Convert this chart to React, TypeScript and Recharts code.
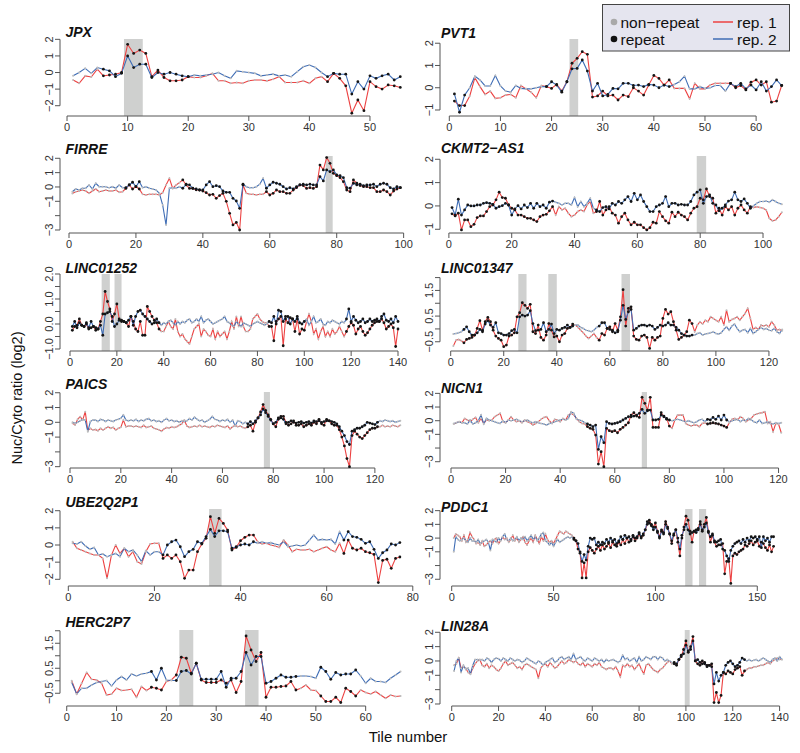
import React from 'react';
import { LineChart, Line, XAxis, YAxis, ReferenceArea, ReferenceLine } from 'recharts';

const FONT = "'Liberation Sans', Arial, Helvetica, sans-serif";
const RED = '#ec4242';
const BLUE = '#3f6db5';
const AXIS = '#555555';
const SHADE = '#cfd0cf';

// ---------------- data ----------------
const jpxRep1 = [-0.45,-0.65,-0.2,-0.27,0.2,-0.2,-0.15,-0.1,0,1.7,1.15,1.35,1.15,-0.25,0.15,-0.3,-0.5,-0.5,-0.45,-0.25,-0.3,-0.3,-0.2,-0.05,-0.5,-0.5,-0.65,-0.6,-0.65,-0.5,-0.45,-0.45,-0.5,-0.4,-0.25,-0.6,-0.6,-0.6,-0.5,-0.65,-0.35,-0.25,-0.55,-0.05,-0.35,-0.8,-2.45,-1.65,-2.3,-0.55,-0.85,-1.0,-0.75,-0.8,-0.9];
const jpxRep2 = [-0.2,0,0.25,-0.05,0.3,0.2,0.1,-0.25,-0.05,1.0,0.3,0.5,0.5,-0.3,0,-0.1,0,-0.1,-0.2,-0.25,-0.15,-0.2,-0.15,-0.1,0,-0.2,-0.35,0.1,0.05,0,-0.05,-0.2,-0.15,-0.1,-0.2,-0.15,-0.25,0.05,0.35,0.45,0.3,0,-0.25,-0.05,-0.1,-0.1,-1.3,-0.55,-1.0,-0.2,-0.35,-0.2,-0.1,-0.45,-0.25];
const jpxRepeats = [[6,20],[43,55]];
const jpxShades = [[9.4,12.5]];

const pvt1Rep1 = [-0.6,-0.8,-0.8,-0.37,0.45,0.05,-0.3,-0.15,-0.48,-0.45,-0.33,-0.3,-0.45,0.1,-0.05,-0.2,-0.45,0.1,0.05,-0.03,0.15,-0.15,0.27,1.1,1.32,1.62,1.5,-0.42,-0.37,-0.15,-0.37,-0.33,-0.55,-0.33,-0.4,0,-0.15,-0.33,0.12,0.55,0.42,0.12,0.35,-0.03,-0.03,-0.03,-0.5,0.2,-0.05,-0.05,0.12,0.2,0.2,0.2,0.2,0,0.1,-0.1,0.25,0.35,0.12,0.27,-0.65,-0.6,0.1];
const pvt1Rep2 = [-0.28,-1.1,-0.33,0,0.52,0.35,0.08,0.08,0.55,0.08,-0.15,-0.2,0.1,-0.03,-0.05,-0.05,0,0.05,0.05,0.27,0.12,-0.2,0.27,0.85,0.87,1.25,0.75,-0.15,0.2,-0.37,-0.3,-0.03,-0.05,0.2,0.2,0.1,0.12,0.05,0.15,0.12,0,0.12,0.05,0.15,0.27,0.52,-0.05,-0.05,0.05,-0.03,0,0.1,0.1,-0.15,0.2,0.05,0.2,-0.05,0.12,-0.1,0.27,-0.15,0.05,0.35,0.1];
const pvt1Repeats = [[1,3],[19,43],[55,65]];
const pvt1Shades = [[23.5,25.2]];

const firreRep1 = [-0.45,-0.33,-0.28,-0.21,-0.28,-0.44,-0.28,-0.14,-0.33,-0.28,-0.21,-0.28,-0.28,-0.21,-0.37,-0.33,-0.1,0.14,-0.14,0.02,-0.14,-0.51,-0.56,-0.51,-0.51,-0.51,-0.56,-0.4,0.14,0.6,-0.1,0.14,0.3,0.49,0.14,-0.1,-0.1,-0.2,-0.21,-0.28,-0.4,-0.56,-0.51,-0.79,-0.6,-0.44,-1.0,-1.84,-2.65,-2.47,-3.0,0.14,-0.44,-0.51,-0.51,-0.56,-0.51,-0.51,-0.33,-0.56,-0.44,-0.21,-0.33,-0.33,-0.44,-0.44,-0.21,-0.05,0.14,0.1,-0.1,-0.05,-0.1,0.02,1.53,1.19,2.05,1.65,0.95,0.79,0.65,0.37,-0.21,-0.33,0.49,0.26,0.1,0.02,0.02,-0.05,-0.05,-0.33,-0.33,-0.21,-0.33,-0.56,-0.28,-0.14,-0.05];
const firreRep2 = [-0.33,-0.14,-0.21,-0.09,-0.09,0.14,-0.14,0.26,0.02,0.02,0.02,-0.05,0.02,-0.09,0.14,-0.05,-0.05,0.14,0.33,0.02,0.37,-0.05,0.02,-0.09,-0.14,-0.21,-0.44,-1.26,-2.65,-0.09,-0.05,-0.09,0.02,-0.09,0.19,0.14,-0.09,-0.14,-0.21,-0.21,0.14,0.37,0.02,0.09,0.02,-0.28,-0.37,-0.37,-0.79,-0.98,-1.49,0.19,0.02,-0.05,-0.05,0.02,0.19,0.6,-0.09,0.14,0.33,0.26,0.19,0.02,-0.14,-0.05,-0.14,0.02,0.14,0.19,0.14,0.19,0.14,0.14,0.72,0.42,1.19,1.07,1.19,0.84,0.79,0.65,-0.05,-0.09,0.26,0.14,0.19,0.09,0.14,0.14,0.19,0.02,0.19,0.26,0.19,-0.05,-0.14,0.02,-0.05];
const firreRepeats = [[17,21],[34,52],[59,99]];
const firreShades = [[76.7,78.8]];

const ckmt2Rep1 = [-0.34,-0.43,-0.31,-1.03,-0.6,-0.6,-0.89,-0.79,-0.5,-0.43,-0.43,-0.24,-0.03,0.04,0.26,0.59,0.36,0.33,0.04,-0.1,-0.17,-0.39,-0.39,-0.46,-0.53,-0.53,-0.6,-0.67,-0.46,-0.39,-0.36,-0.21,-0.03,-0.39,-0.03,-0.17,-0.1,-0.31,-0.46,-0.39,-0.24,-0.17,-0.24,0.04,0.19,-0.31,-0.24,0.19,-0.39,-0.17,-0.03,-0.31,-0.39,-0.74,-0.46,-0.31,-0.6,-0.81,-0.7,-0.81,-0.81,-0.93,-1.03,-0.93,-0.7,-0.74,-0.24,-0.46,-0.64,-0.74,-0.27,-0.46,-0.27,-0.39,-0.46,-0.6,-0.31,-0.1,-0.03,0.33,0.26,0.73,0.4,0.33,-0.31,-0.1,-0.39,-0.03,-0.17,-0.03,-0.39,-0.1,0.04,-0.17,-0.31,-0.03,-0.07,-0.03,-0.07,-0.1,-0.17,-0.53,-0.64,-0.6,-0.46,-0.27];
const ckmt2Rep2 = [-0.07,-0.39,0.29,-0.39,-0.17,0.04,0,0,0.04,0.04,0.11,0.14,0.11,0.07,-0.1,-0.03,0.01,0.11,0.04,-0.39,-0.13,0.01,-0.13,0.04,-0.07,0.11,-0.1,0.11,-0.03,0.04,-0.1,0.16,0.21,0.16,0.11,0.04,0.11,0.11,0.04,0.36,-0.03,0.19,-0.03,0.11,0.33,-0.1,-0.17,-0.24,-0.07,-0.03,-0.13,0.11,0.04,0.19,0.11,0.26,0.4,0.19,0.54,0.26,0.47,0.19,-0.03,-0.24,-0.24,-0.03,0.04,0.11,0.4,-0.03,0.11,0.11,0.04,0.07,0.04,0.04,0.19,0.47,0.59,0.69,0.11,0.4,0.47,0.11,0.04,-0.21,-0.1,0.04,0.21,0.26,0.59,0.26,0.19,0.3,0.11,-0.1,0.01,0.11,0.19,0.19,0.21,0.16,0.26,0.19,0.11,0.07];
const ckmt2Repeats = [[1,33],[47,96]];
const ckmt2Shades = [[78.9,81.9]];

const linc01252Rep1 = [-0.25,-0.1,-0.05,0.2,-0.05,-0.1,0,-0.2,-0.15,-0.1,-0.25,-0.2,0.1,0.4,1.3,0.9,0.6,0.1,0.4,0.8,0.2,0.1,0.1,0.05,-0.1,0.3,0.1,-0.2,-0.3,0.1,-0.45,-0.45,0.7,0.5,0.3,0.15,0.05,-0.2,-0.3,-0.3,-0.1,0.1,-0.1,-0.2,0.2,-0.3,-0.5,-0.4,-0.6,-0.7,-0.8,-0.5,-0.2,-0.1,0,-0.5,-0.2,-0.3,-0.45,-0.5,-0.2,-0.6,-0.3,-0.5,-0.4,-0.3,-0.6,-0.3,0.1,-0.2,0.3,-0.1,0.3,-0.1,-0.3,-0.3,-0.2,0.2,0.3,0.4,0.2,0.1,0.05,0.05,-0.1,-0.1,-0.67,0.1,0.2,0.3,-0.87,0.2,0.05,0.25,0.2,-0.3,0.2,-0.4,-0.2,-0.25,0.1,0.4,0.1,-0.4,-0.2,-0.6,-0.3,-0.1,-0.5,-0.3,-0.5,-0.2,-0.4,-0.3,-0.1,-0.3,-0.5,-0.3,-0.1,0.05,-0.05,-0.4,-0.2,-0.1,-0.3,-0.45,-0.35,-0.2,-0.05,0.05,0.1,0.1,0.2,0.05,-0.2,-0.1,0,-0.15,-0.9,-0.2];
const linc01252Rep2 = [-0.1,0.1,-0.15,0.05,-0.05,-0.1,0.05,-0.15,0.1,-0.1,-0.15,-0.2,-0.05,-0.45,0.4,0.45,0.5,0.3,-0.1,0,0.15,0.15,0.1,0.05,0.15,0.3,-0.05,0.3,0.5,0.55,0.4,0.3,0.2,0.1,0,0.05,0.2,0.05,-0.05,0.05,0,0.1,0.15,0.05,-0.05,0.1,0,0.1,0.05,0.15,0.2,0.05,0.1,0.2,0.1,0.3,0.05,0.15,0.2,0.1,0,0.05,0.1,0.15,0.2,0.3,0.1,0.05,-0.05,-0.1,0.1,0,-0.1,0.05,0,-0.05,-0.1,0,0.05,0.1,0.05,0,-0.05,0,0.1,0.05,0.3,0,0.55,0.5,0.1,0.3,0.3,0,0.2,0.1,0.3,0.05,0,0.1,0.2,-0.05,0.1,0.3,0.05,0.1,0.2,0,-0.05,0.1,0.05,0.15,0.1,0.05,0,0.1,0.05,0.2,0.6,0.1,0.3,0.15,0.05,0.1,0.2,0.05,0.1,0.2,0.1,0.15,0.2,0.1,0.3,0.4,0.15,0.1,0.2,0.05,0.3,0.1];
const linc01252Repeats = [[1,38],[85,100],[118,140]];
const linc01252Shades = [[13.5,17],[19,22]];

const linc01347Rep1 = [-0.67,-0.44,-0.41,-0.46,-0.54,-0.41,-0.37,-0.33,-0.24,0.02,0.32,-0.05,0.28,0.45,0.28,-0.05,-0.28,-0.37,-0.44,-0.69,-0.63,-0.28,-0.24,-0.15,0.47,0.63,1.02,0.92,0.8,0.96,-0.11,-0.18,0.15,-0.33,-0.44,-0.24,0.21,-0.05,-0.31,-0.28,-0.5,-0.24,-0.18,0.02,0.06,0.19,0.15,0.06,-0.05,-0.15,-0.28,-0.37,-0.28,-0.18,-0.33,-0.44,-0.18,-0.24,0.02,0.08,-0.11,0.21,-0.05,0.47,1.53,0.11,0.8,0.86,-0.28,-0.41,-0.44,-0.28,-0.24,-0.33,-0.76,-0.33,-0.44,-0.33,-0.28,0.41,0.76,0.58,0.67,0.28,-0.05,-0.41,-0.33,-0.24,-0.11,0.34,0.21,-0.11,0.15,0.28,0.19,0.34,0.28,0.47,0.41,0.34,0.28,0.47,0.15,0.73,0.28,0.37,0.41,0.47,0.34,0.47,0.6,0.8,0.41,-0.02,0.06,-0.02,0.15,0.11,0.15,0.08,0.28,0.15,-0.05,-0.02,-0.07];
const linc01347Rep2 = [-0.2,-0.18,-0.15,-0.11,-0.02,0.08,-0.11,-0.24,-0.24,-0.15,-0.02,-0.11,0.19,0.32,0.15,0.06,0.24,-0.15,-0.18,-0.24,-0.24,-0.18,-0.07,-0.02,-0.15,0.47,0.54,0.5,0.54,0.71,0.21,-0.07,-0.05,-0.02,0.24,-0.11,-0.02,0.19,-0.18,-0.02,-0.05,0.02,0.06,0.15,0.06,0.11,0.15,0.15,0.06,0.02,-0.05,-0.07,-0.11,-0.05,0.06,0.11,0.24,0.24,0.02,-0.02,-0.05,-0.15,-0.11,0.34,0.92,0.37,0.67,0.76,-0.05,0.02,0.11,0.15,0.15,0.11,0.15,0.11,-0.02,0.06,0.15,0.11,0.15,0.24,0.15,0.15,0.06,-0.05,-0.18,-0.24,-0.28,-0.28,-0.24,-0.24,-0.18,-0.15,-0.24,-0.2,-0.18,-0.15,-0.11,-0.18,-0.2,-0.15,-0.02,0.08,-0.05,0.11,0.19,0.02,-0.11,-0.05,-0.02,-0.15,0.02,-0.18,-0.11,-0.02,0.06,-0.02,0.02,-0.05,-0.07,0.02,-0.11,-0.18,-0.02];
const linc01347Repeats = [[5,46],[56,91]];
const linc01347Shades = [[25.5,28.6],[36.8,40],[64.4,67.6]];

const paicsRep1 = [-0.07,-0.18,0.2,0.38,0.15,0.72,-0.57,-0.41,-0.52,-0.48,-0.57,-0.41,-0.52,-0.41,-0.3,-0.41,-0.34,-0.52,-0.41,-0.34,0.15,-0.3,-0.25,-0.25,-0.3,-0.25,-0.3,-0.35,-0.2,-0.35,-0.3,-0.25,-0.4,-0.45,-0.5,-0.6,-0.45,-0.35,-0.4,-0.3,-0.35,-0.3,-0.2,-0.1,0.15,-0.25,-0.35,-0.3,-0.25,-0.3,-0.2,-0.3,-0.25,-0.3,-0.35,-0.25,-0.3,-0.2,-0.25,-0.3,-0.35,-0.25,-0.45,-0.3,-0.2,-0.3,-0.25,-0.35,-0.4,-0.3,-0.2,-0.6,0,0.3,0.7,1.2,0.8,0.5,0.2,-0.1,-0.3,0.2,0.4,0.4,0,-0.2,-0.1,0.1,-0.2,-0.2,-0.1,-0.3,-0.2,-0.1,-0.2,0,-0.1,0.2,-0.1,-0.2,0.2,0.1,-0.1,-0.2,-0.2,-0.5,-1.0,-1.6,-2.45,-3.0,-0.9,-0.6,-0.8,-1.0,-1.1,-0.9,-0.7,-0.5,-0.4,-0.4,-0.3,-0.3,-0.2,-0.3,-0.25,-0.3,-0.2,-0.25,-0.3,-0.2];
const paicsRep2 = [0,-0.07,0,0.1,0.2,0.15,-0.63,0.05,0.15,0.15,0.05,0.2,0.15,0.05,0.15,0.1,0.05,0.15,0.2,0.27,0.5,0.15,0.1,0.15,0.1,0.2,0.05,0.15,0.1,0.2,0.25,0.1,0.15,0.05,0.1,0,0.15,0.25,0.1,0.15,0.05,0.1,0,0.1,0.05,0.1,0.25,0.15,0.35,0.2,0.1,0.15,0,0.1,0.2,0.4,0.2,0.15,0.05,0.15,0.1,0.2,0,0.15,-0.25,0.1,0.05,-0.1,0,-0.1,0.05,-0.1,0.1,0.3,0.5,0.9,0.65,0.4,0.15,-0.1,0,0.3,0.3,0.2,-0.1,0,0.1,0,-0.05,0,0.05,-0.05,0,0.05,-0.05,0.1,0.05,0.1,0,0.05,0.1,0.1,0.05,0,-0.1,-0.3,-0.6,-0.9,-1.3,-1.5,-0.6,-0.5,-0.4,-0.4,-0.3,-0.2,0,-0.05,-0.1,-0.15,0,0.1,0.05,0.15,0.1,0.05,0.1,0,0.05,0.1];
const paicsRepeats = [[70,121]];
const paicsShades = [[76.3,78.7]];

const nicn1Rep1 = [-0.24,-0.15,-0.07,-0.15,0.17,0.05,-0.07,0.1,0.24,-0.15,0.17,-0.2,0.05,0,0.05,0.29,0.41,0.54,-0.07,-0.15,0.05,0.29,0.05,-0.07,0,-0.15,0.05,-0.07,-0.15,-0.32,-0.2,-0.07,0.1,0.24,0.29,0,-0.2,0.1,0.05,-0.07,0.17,0.05,0.41,0.54,0.41,0.17,-0.07,-0.2,-0.24,-0.44,-0.56,-0.63,-1.05,-3.17,-2.27,-3.37,-0.56,-0.73,-0.8,-0.73,-0.88,-0.63,-0.49,-0.32,-0.15,0.41,0.59,0.34,0.24,1.71,1.27,0.78,1.71,-0.49,-0.49,-0.49,0.59,0.29,0.17,-0.39,-0.56,0.05,0.41,0.41,0.41,-0.2,-0.32,-0.39,-0.32,-0.32,-0.44,-0.2,-0.15,-0.24,-0.2,-0.15,-0.2,-0.24,-0.32,-0.39,-0.49,-0.15,0.1,0.17,0.05,0.29,0.17,-0.07,0.05,0.17,0.41,0.49,0.54,0.59,0.66,-0.2,-0.07,-0.8,-0.2,-0.24,-0.88];
const nicn1Rep2 = [-0.2,-0.15,-0.07,-0.15,-0.15,-0.24,0.05,-0.24,-0.15,0,0.41,-0.24,0.17,0.05,0,-0.07,-0.15,-0.2,0,-0.15,0.05,0,0.05,0.1,0,-0.07,0,0.05,-0.07,-0.15,-0.07,-0.15,-0.2,-0.24,-0.32,-0.2,-0.15,-0.07,0,0.05,0.1,0.05,0.17,0.66,0.54,0.1,0.05,0,-0.15,-0.24,-0.32,-0.44,-0.32,-2.1,-1.17,-1.61,-0.07,-0.2,-0.24,-0.2,-0.15,-0.07,0.05,0.17,0.29,0.29,0.34,0.41,0.54,0.83,0.54,0.73,0.78,0.05,0.05,0.1,0.41,0.34,0.1,0.05,0,0.05,0.1,0.05,0,-0.07,0,-0.07,-0.15,-0.07,0.05,0.1,-0.07,0.1,0.05,0.24,0.1,0.34,0.05,0.41,0.05,-0.07,0,0.05,0.1,-0.07,0.05,0,0.17,0.05,-0.07,-0.15,0.05,-0.2,-0.15,-0.07,-0.2,-0.24,-0.15,-0.2,-0.15];
const nicn1Repeats = [[50,80],[94,101]];
const nicn1Shades = [[69.9,71.8]];

const ube2q2p1Rep1 = [0.19,-0.19,-0.29,-0.39,-0.49,-0.58,-0.58,-0.78,-1.94,-0.6,0,-0.49,-0.19,-0.68,-0.39,-0.97,-1.11,-0.39,0.06,0.1,0.1,-0.78,-0.58,-0.78,-0.58,-0.97,-1.94,-1.46,-1.46,-0.39,0.06,0.39,1.65,0.68,1.55,1.26,0.87,-0.29,-0.14,0.25,0.45,0.58,0.58,0.19,0.06,0.1,0,-0.06,-0.14,0.29,0,-0.39,-0.25,-0.29,-0.29,-0.25,-0.39,-0.29,-0.19,-0.1,-0.29,-0.39,0.1,-0.49,0.29,-0.19,-0.29,-0.19,-0.39,-0.45,-0.55,-2.19,-0.9,-0.83,-1.36,-0.78,-0.7];
const ube2q2p1Rep2 = [0.1,0.06,0.19,-0.06,-0.25,-0.14,-0.58,-0.52,-0.68,-0.58,-0.49,-0.68,-0.19,-0.39,-0.29,-0.58,-0.97,-0.33,-0.58,-0.39,-0.39,-0.58,0,0.19,0.29,-0.1,-0.68,-0.39,-0.25,0.19,0.1,0.49,0.91,0.49,0.83,0.83,0.78,-0.19,-0.1,0,0.06,0,0.19,0.1,0.19,0.1,0.14,0.06,0,0.19,-0.1,-0.06,0,-0.06,0,0.29,0.58,0.29,0.33,0.29,0.33,0.06,0.78,0.29,0.78,0.49,0.45,0.33,0.1,0.19,-0.25,-0.78,-0.45,-0.29,0.06,0,0.14];
const ube2q2p1Repeats = [[22,43],[64,77]];
const ube2q2p1Shades = [[32.7,35.6]];

const pddc1Rep1 = [0,0.3,0.2,0.1,-0.2,0.2,-0.3,-0.1,0.4,0.1,-0.1,-0.4,-0.3,-0.5,-0.2,-0.6,-0.5,-0.3,-0.2,-0.4,-0.1,0,-0.4,-0.2,0.1,-0.1,0,-0.3,-0.1,0.2,-0.2,0,-0.3,-0.1,0.1,-0.3,-0.5,-0.2,0,-0.3,0.2,-0.1,-0.4,0.1,-0.2,0.3,-0.1,-0.3,-0.2,-0.4,-0.1,0.2,0.5,0.4,0.3,0.5,0.4,0.3,0.2,0,-0.2,-0.8,-1.0,-2.9,-1.8,-2.9,-1.0,-0.7,-0.9,-1.1,-0.8,-0.6,-0.9,-0.5,-0.8,-0.6,-0.4,-0.7,-0.3,-0.5,-0.6,-0.3,-0.5,-0.1,-0.4,0,-0.3,-0.1,0.1,-0.2,0,0.3,0,0.2,0.6,1.0,1.3,1.0,0.8,1.1,0.5,0.1,0.6,0.4,1.2,0.8,0.3,-0.4,0.2,0.6,-0.3,-1.3,0,0.8,1.6,1.3,0.5,-0.3,0.5,0.6,0.7,1.2,0.5,1.0,1.5,0.5,-0.3,0.2,-0.3,-0.6,-0.5,-0.5,-0.4,-2.6,-1.7,-1.5,-3.3,-1.3,-1.1,-1.2,-1.0,-0.9,-0.8,-0.5,-0.6,-0.4,-0.2,-0.5,-0.3,-0.2,-0.6,-0.3,-0.4,-0.7,-0.9,-0.5,-1.0,-0.6];
const pddc1Rep2 = [-1.0,0.1,-0.1,-0.2,-0.1,0,-0.2,-0.3,0,-0.2,-0.2,-0.3,-0.1,-0.4,-0.3,-0.2,-0.1,-0.3,-0.9,-0.1,-0.2,-0.3,0,-0.2,0.1,0.3,-0.1,-0.2,0,-0.2,-0.1,0.1,-0.2,0,-0.1,0.1,-0.2,0,0.2,-0.1,0.1,-0.2,0,0.3,0.4,-0.2,-0.3,-0.5,-0.3,-0.6,-0.3,-0.1,-0.3,-0.2,-0.1,0,0.1,0,0.1,-0.1,-0.2,-0.4,-1.1,-1.7,-1.2,-1.6,-0.6,0,-0.1,0,-0.5,-0.3,-0.5,-0.3,-0.4,-0.1,-0.3,0,-0.2,-0.1,-0.4,-0.2,0.1,-0.1,0.2,0,0.1,-0.2,0.2,0,0.1,0.4,0.1,0.3,0.6,1.2,1.1,0.9,0.6,0.8,0.4,0,0.5,0.3,1.0,0.7,0.3,-0.2,0.3,0.6,0,-0.8,0.2,0.6,1.0,0.6,0.3,0.4,0.5,0.4,0.6,1.0,0.6,0.8,1.1,0.4,0.1,0.3,-0.2,-0.3,-0.2,-0.1,-0.8,-0.9,-1.3,-1.7,-0.9,-0.6,-0.4,-0.3,-0.2,-0.4,-0.1,-0.3,0,-0.2,0.1,0,0.1,-0.1,0.1,-0.7,0.1,-0.2,0,-0.3,0.1,0.1];
const pddc1Repeats = [[60,158]];
const pddc1Shades = [[114.6,118.2],[121.4,124.9]];

const herc2p7Rep1 = [0,-0.53,-0.1,0.33,0.06,0.03,-0.1,-0.57,-0.53,-0.3,-0.39,-0.37,-0.34,-0.66,-0.23,-0.39,-0.26,-0.3,-0.37,-0.03,0.03,0.23,0.94,0.9,0.3,0.7,0.03,-0.07,-0.07,-0.07,0.03,-0.1,0.03,-0.47,-0.03,1.79,1.23,0.77,1.13,-0.66,-0.26,-0.26,-0.23,-0.21,-0.03,-0.37,-0.3,-0.17,-0.37,-0.39,-0.61,-0.83,-0.83,-0.66,-0.87,-0.3,-0.43,-0.61,-0.37,-0.47,-0.53,-0.43,-0.57,-0.7,-0.57,-0.63,-0.61];
const herc2p7Rep2 = [-0.07,-0.53,-0.3,-0.3,-0.17,-0.07,-0.03,0.01,-0.21,0.03,0.17,0.03,0.27,0.19,0.27,0.3,0.37,0.03,0.5,0.03,0.01,0.01,0.37,0.41,0.27,0.7,0.06,0.06,0.06,0.06,0.37,-0.26,0.1,0.1,0.37,1.13,0.63,0.97,0.97,-0.1,-0.03,0.1,0.23,0.14,0.14,0.17,0.19,0.19,0.17,0.1,0.54,0.37,0.06,0.33,0.23,0.27,0.27,0.43,0.19,-0.1,0.1,-0.03,-0.03,-0.07,0.1,0.23,0.37];
const herc2p7Repeats = [[17,19],[22,46],[51,58]];
const herc2p7Shades = [[22.6,25.4],[35.8,38.5]];

const lin28aRep1 = [-0.3,-0.2,0.2,-0.5,-0.4,-0.5,-0.8,-0.9,-0.5,-0.2,0,0.1,-0.3,-0.4,-0.2,-0.5,-0.3,-0.4,-0.6,-0.7,-0.5,-0.2,0,-0.3,-0.2,-0.1,-0.3,-0.5,-0.4,-0.6,-0.3,-0.2,-0.3,-0.4,-0.5,-0.6,-1.2,-0.5,-0.3,-0.2,-0.4,-0.1,-0.3,-0.5,-0.4,-0.2,0,-0.2,-0.1,0.1,0,-0.1,0,-0.2,-0.3,-0.1,-0.4,-0.2,-0.3,-0.4,-0.2,-0.3,-0.1,-0.4,-0.5,-0.6,-0.5,-0.5,-0.6,-0.4,-0.7,-1.1,-0.3,-0.4,-0.2,-0.4,-0.3,-0.6,-0.4,-0.2,-0.6,-0.9,-0.3,-0.2,-0.4,-0.6,-0.7,-0.8,-0.6,-0.5,-0.3,-0.1,0,-0.2,-0.1,-0.3,0.1,0.3,0.8,1.4,0.6,1.0,1.7,0,-0.2,-0.3,0,-0.2,-0.3,-0.3,-0.2,-2.9,-2.2,-2.9,-2.4,-0.8,-0.9,-0.7,-0.8,-0.9,-0.6,-0.5,-0.4,-1.0,-0.7,-0.6,-0.5,-0.5,-0.4,-0.4,-0.35,-0.3,-0.3,-0.2,-0.1,-0.2,0,0.1,0.2,0.1,0.1];
const lin28aRep2 = [-0.7,0,0.2,-0.8,-0.3,-0.6,-0.5,-0.9,-0.3,0.1,0.1,0.05,0.1,0,0.2,0.1,-0.1,0.1,0.2,0.15,0,0.2,0.1,0,0.2,0.1,0,0.1,0.05,-0.1,0,0.2,0.1,0,-0.1,-0.2,0,-0.1,-0.3,-0.1,0,0.1,0.2,-0.1,0,0.2,0.3,0.1,0.2,0.3,0.1,0.5,0.1,0.2,0.3,0.1,0,0.2,0.1,0,0.2,0.1,0,0.1,-0.1,0.1,0,0.05,0.1,0,-0.1,0,0.4,0.1,0.2,0,0.1,0.2,-0.1,0.3,0,0.1,0.3,0.2,0.1,0.3,0.3,0.1,0.3,0.2,0,0.1,0,-0.1,-0.2,-0.2,0.1,0.4,0.5,1.1,0.7,0.8,1.4,0,0.1,-0.1,-0.2,-0.1,-0.4,-0.3,-0.4,-1.6,-0.8,-1.4,-1.0,-0.8,-0.3,-0.1,0,-0.2,-0.4,-0.3,-0.1,0.2,0.1,0,0.1,0,0.05,0.1,0,0.1,0.2,0.1,0,-0.1,0.1,0.2,0,0.3,0.1];
const lin28aRepeats = [[95,125]];
const lin28aShades = [[99.5,101.6]];

// tick values
const ticksX10to50 = [0,10,20,30,40,50];
const ticksX10to60 = [0,10,20,30,40,50,60];
const ticksX20to80 = [0,20,40,60,80];
const ticksX20to100 = [0,20,40,60,80,100];
const ticksX20to120 = [0,20,40,60,80,100,120];
const ticksX20to140 = [0,20,40,60,80,100,120,140];
const ticksX50to150 = [0,50,100,150];
const ticksYm2to2 = [-2,-1,0,1,2];
const ticksYm1to2 = [-1,0,1,2];
const ticksYm3to2 = [-3,-2,-1,0,1,2];
const labelsYm3to2 = [-3,-1,0,1,2];
const ticksYhalfM1 = [-1,-0.5,0,0.5,1,1.5,2];
const labelsYhalfM1 = [-1,0,1,2];
const ticksYhalfM05 = [-0.5,0,0.5,1,1.5,2];
const labelsYhalfM05 = [-0.5,0.5,1.5];

// ---------------- layout ----------------
type Panel = {
  name: string; rep1: number[]; rep2: number[]; repeats: number[][]; shades: number[][];
  xTicks: number[]; yTicks: number[]; yLabels: number[]; digits: number;
  xDomain: [number, number]; yDomain: [number, number];
  col: number; row: number; titleY: number;
};

const COLS = [{ left: 60, right: 413, titleX: 65.5 }, { left: 440, right: 796, titleX: 441 }];
const ROWS = [
  { top: 39, bottom: 116 }, { top: 156, bottom: 233 }, { top: 274, bottom: 351 },
  { top: 392, bottom: 468 }, { top: 509, bottom: 586 }, { top: 630, bottom: 706 },
];

const panels: Panel[] = [
  { name: 'JPX', rep1: jpxRep1, rep2: jpxRep2, repeats: jpxRepeats, shades: jpxShades, xTicks: ticksX10to50, yTicks: ticksYm2to2, yLabels: ticksYm2to2, digits: 0, xDomain: [-1.16, 57.1], yDomain: [-2.62, 2.02], col: 0, row: 0, titleY: 36.7 },
  { name: 'PVT1', rep1: pvt1Rep1, rep2: pvt1Rep2, repeats: pvt1Repeats, shades: pvt1Shades, xTicks: ticksX10to60, yTicks: ticksYm1to2, yLabels: ticksYm1to2, digits: 0, xDomain: [-1.82, 67.8], yDomain: [-1.27, 2.19], col: 1, row: 0, titleY: 37.7 },
  { name: 'FIRRE', rep1: firreRep1, rep2: firreRep2, repeats: firreRepeats, shades: firreShades, xTicks: ticksX20to100, yTicks: ticksYm3to2, yLabels: labelsYm3to2, digits: 0, xDomain: [-2.69, 102.8], yDomain: [-3.21, 2.16], col: 0, row: 1, titleY: 154 },
  { name: 'CKMT2\u2212AS1', rep1: ckmt2Rep1, rep2: ckmt2Rep2, repeats: ckmt2Repeats, shades: ckmt2Shades, xTicks: ticksX20to100, yTicks: ticksYm1to2, yLabels: ticksYm1to2, digits: 0, xDomain: [-2.83, 110.5], yDomain: [-1.16, 2.14], col: 1, row: 1, titleY: 153 },
  { name: 'LINC01252', rep1: linc01252Rep1, rep2: linc01252Rep2, repeats: linc01252Repeats, shades: linc01252Shades, xTicks: ticksX20to140, yTicks: ticksYhalfM1, yLabels: labelsYhalfM1, digits: 1, xDomain: [-4.27, 146.4], yDomain: [-1.08, 2.0], col: 0, row: 2, titleY: 272.7 },
  { name: 'LINC01347', rep1: linc01347Rep1, rep2: linc01347Rep2, repeats: linc01347Repeats, shades: linc01347Shades, xTicks: ticksX20to120, yTicks: ticksYhalfM05, yLabels: labelsYhalfM05, digits: 1, xDomain: [-4.03, 130.2], yDomain: [-0.86, 2.14], col: 1, row: 2, titleY: 272.7 },
  { name: 'PAICS', rep1: paicsRep1, rep2: paicsRep2, repeats: paicsRepeats, shades: paicsShades, xTicks: ticksX20to120, yTicks: ticksYm3to2, yLabels: labelsYm3to2, digits: 0, xDomain: [-3.94, 135.0], yDomain: [-3.09, 2.05], col: 0, row: 3, titleY: 389 },
  { name: 'NICN1', rep1: nicn1Rep1, rep2: nicn1Rep2, repeats: nicn1Repeats, shades: nicn1Shades, xTicks: ticksX20to120, yTicks: ticksYm3to2, yLabels: labelsYm3to2, digits: 0, xDomain: [-4.03, 126.4], yDomain: [-3.46, 2.1], col: 1, row: 3, titleY: 393 },
  { name: 'UBE2Q2P1', rep1: ube2q2p1Rep1, rep2: ube2q2p1Rep2, repeats: ube2q2p1Repeats, shades: ube2q2p1Shades, xTicks: ticksX20to80, yTicks: ticksYm2to2, yLabels: ticksYm2to2, digits: 0, xDomain: [-1.93, 80.05], yDomain: [-2.39, 2.1], col: 0, row: 4, titleY: 507 },
  { name: 'PDDC1', rep1: pddc1Rep1, rep2: pddc1Rep2, repeats: pddc1Repeats, shades: pddc1Shades, xTicks: ticksX50to150, yTicks: ticksYm3to2, yLabels: labelsYm3to2, digits: 0, xDomain: [-5.74, 169.0], yDomain: [-3.49, 2.12], col: 1, row: 4, titleY: 511.7 },
  { name: 'HERC2P7', rep1: herc2p7Rep1, rep2: herc2p7Rep2, repeats: herc2p7Repeats, shades: herc2p7Shades, xTicks: ticksX10to60, yTicks: ticksYhalfM05, yLabels: labelsYhalfM05, digits: 1, xDomain: [-1.35, 69.5], yDomain: [-1.01, 2.03], col: 0, row: 5, titleY: 627 },
  { name: 'LIN28A', rep1: lin28aRep1, rep2: lin28aRep2, repeats: lin28aRepeats, shades: lin28aShades, xTicks: ticksX20to140, yTicks: ticksYm3to2, yLabels: labelsYm3to2, digits: 0, xDomain: [-5.0, 147.0], yDomain: [-3.14, 2.16], col: 1, row: 5, titleY: 631 },
];

const fmt = (v: number, d: number) => {
  const s = Math.abs(v).toFixed(d);
  return v < 0 ? '\u2212' + s : s;
};

function PanelChart({ p }: { p: Panel }) {
  const c = COLS[p.col];
  const r = ROWS[p.row];
  const YW = 40, XH = 30, MT = 14, MR = 14;
  const w = c.right - c.left + YW + MR;
  const h = r.bottom - r.top + MT + XH;
  const isRep = p.rep1.map((_, i) => p.repeats.some(([a, b]) => i + 1 >= a && i + 1 <= b));
  const data = p.rep1.map((v, i) => ({ x: i + 1, r1: v, r2: p.rep2[i] }));
  const dot = (props: any) => {
    const { cx, cy, index } = props;
    if (cx == null || cy == null) return <g key={`d${index}`} />;
    return isRep[index]
      ? <circle key={`d${index}`} cx={cx} cy={cy} r={1.4} fill="#151515" stroke="none" />
      : <circle key={`d${index}`} cx={cx} cy={cy} r={1.0} fill="#bdbdbd" stroke="none" />;
  };
  const yTick = (props: any) => {
    const { x, y, payload } = props;
    const v = payload.value as number;
    const show = p.yLabels.some((l) => Math.abs(l - v) < 1e-9);
    if (!show) return <g />;
    return (
      <text x={x} y={y} transform={`rotate(-90 ${x} ${y})`} textAnchor="middle" fontSize={11} fill="#333" fontFamily={FONT}>
        {fmt(v, p.digits)}
      </text>
    );
  };
  const xt = p.xTicks, yt = p.yTicks;
  return (
    <div style={{ position: 'absolute', left: c.left - YW, top: r.top - MT }}>
      <LineChart width={w} height={h} data={data} margin={{ top: MT, right: MR, left: 0, bottom: 0 }}>
        <XAxis type="number" dataKey="x" domain={p.xDomain} ticks={xt} allowDataOverflow interval={0}
          axisLine={false} tickLine={{ stroke: AXIS }} tickSize={5} tickMargin={2} height={XH}
          tick={{ fontSize: 11, fill: '#333', fontFamily: FONT }} />
        <YAxis type="number" domain={p.yDomain} ticks={yt} allowDataOverflow interval={0}
          axisLine={false} tickLine={{ stroke: AXIS }} tickSize={5} tickMargin={2} width={YW} tick={yTick} />
        {p.shades.map(([a, b], i) => (
          <ReferenceArea key={`s${i}`} x1={a} x2={b} fill={SHADE} fillOpacity={1} stroke="none" ifOverflow="visible" />
        ))}
        <ReferenceLine segment={[{ x: xt[0], y: p.yDomain[0] }, { x: xt[xt.length - 1], y: p.yDomain[0] }]} stroke={AXIS} ifOverflow="visible" />
        <ReferenceLine segment={[{ x: p.xDomain[0], y: yt[0] }, { x: p.xDomain[0], y: yt[yt.length - 1] }]} stroke={AXIS} ifOverflow="visible" />
        <Line type="linear" dataKey="r1" stroke={RED} strokeWidth={1.1} dot={dot} activeDot={false} isAnimationActive={false} />
        <Line type="linear" dataKey="r2" stroke={BLUE} strokeWidth={1.1} dot={dot} activeDot={false} isAnimationActive={false} />
      </LineChart>
    </div>
  );
}

export default function App() {
  return (
    <div style={{ position: 'absolute', left: 0, top: 0, width: 800, height: 753, background: '#fff', overflow: 'hidden' }}>
      {panels.map((p) => <PanelChart key={p.name} p={p} />)}
      <svg width={800} height={753} style={{ position: 'absolute', left: 0, top: 0, pointerEvents: 'none' }}>
        {panels.map((p) => (
          <text key={`t${p.name}`} x={COLS[p.col].titleX} y={p.titleY} fontFamily={FONT} fontWeight="bold" fontStyle="italic" fontSize={14} fill="#111">
            {p.name}
          </text>
        ))}
        <text x={21.5} y={398} transform="rotate(-90 21.5 398)" textAnchor="middle" fontFamily={FONT} fontSize={14.5} fill="#111">
          Nuc/Cyto ratio (log2)
        </text>
        <text x={408} y={742} textAnchor="middle" fontFamily={FONT} fontSize={15} fill="#111">Tile number</text>
        <g>
          <rect x={602.5} y={4.5} width={187} height={46.5} fill="#e5e5ef" stroke="#444" strokeWidth={1} />
          <circle cx={614} cy={22} r={3.3} fill="#a9a9a9" />
          <text x={620.5} y={27.5} fontFamily={FONT} fontSize={15.5} fill="#111">{'non\u2212repeat'}</text>
          <circle cx={614} cy={39} r={3.3} fill="#111" />
          <text x={620.5} y={44.5} fontFamily={FONT} fontSize={15.5} fill="#111">repeat</text>
          <line x1={713} y1={22} x2={733} y2={22} stroke={RED} strokeWidth={1.5} />
          <text x={737} y={27.5} fontFamily={FONT} fontSize={15.5} fill="#111">rep. 1</text>
          <line x1={713} y1={39} x2={733} y2={39} stroke={BLUE} strokeWidth={1.5} />
          <text x={737} y={44.5} fontFamily={FONT} fontSize={15.5} fill="#111">rep. 2</text>
        </g>
      </svg>
    </div>
  );
}
